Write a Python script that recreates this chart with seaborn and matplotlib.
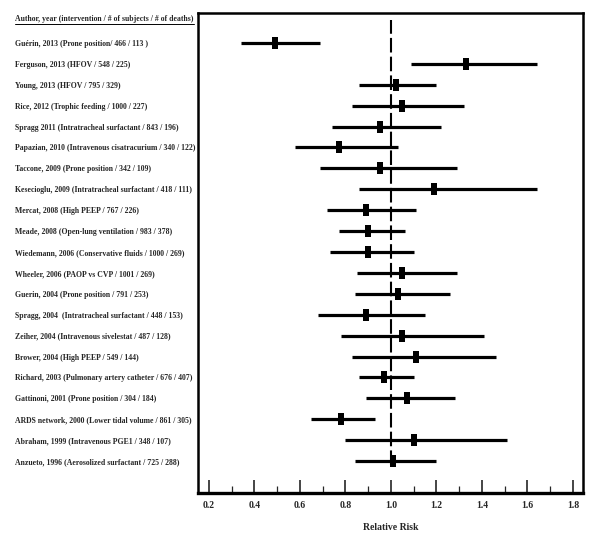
import matplotlib
matplotlib.use("Agg")
import matplotlib.pyplot as plt
import numpy as np
import pandas as pd
import seaborn as sns
from matplotlib.ticker import MultipleLocator

# study labels, top to bottom
studies = [
    "Guérin, 2013 (Prone position/ 466 / 113 )",
    "Ferguson, 2013 (HFOV / 548 / 225)",
    "Young, 2013 (HFOV / 795 / 329)",
    "Rice, 2012 (Trophic feeding / 1000 / 227)",
    "Spragg 2011 (Intratracheal surfactant / 843 / 196)",
    "Papazian, 2010 (Intravenous cisatracurium / 340 / 122)",
    "Taccone, 2009 (Prone position / 342 / 109)",
    "Kesecioglu, 2009 (Intratracheal surfactant / 418 / 111)",
    "Mercat, 2008 (High PEEP / 767 / 226)",
    "Meade, 2008 (Open-lung ventilation / 983 / 378)",
    "Wiedemann, 2006 (Conservative fluids / 1000 / 269)",
    "Wheeler, 2006 (PAOP vs CVP / 1001 / 269)",
    "Guerin, 2004 (Prone position / 791 / 253)",
    "Spragg, 2004  (Intratracheal surfactant / 448 / 153)",
    "Zeiher, 2004 (Intravenous sivelestat / 487 / 128)",
    "Brower, 2004 (High PEEP / 549 / 144)",
    "Richard, 2003 (Pulmonary artery catheter / 676 / 407)",
    "Gattinoni, 2001 (Prone position / 304 / 184)",
    "ARDS network, 2000 (Lower tidal volume / 861 / 305)",
    "Abraham, 1999 (Intravenous PGE1 / 348 / 107)",
    "Anzueto, 1996 (Aerosolized surfactant / 725 / 288)",
]
rel_risk = [0.49, 1.33, 1.02, 1.05, 0.95, 0.77, 0.95, 1.19, 0.89, 0.90, 0.90,
            1.05, 1.03, 0.89, 1.05, 1.11, 0.97, 1.07, 0.78, 1.10, 1.01]
ci_low = [0.34, 1.09, 0.86, 0.83, 0.74, 0.58, 0.69, 0.86, 0.72, 0.77, 0.73,
          0.85, 0.84, 0.68, 0.78, 0.83, 0.86, 0.89, 0.65, 0.80, 0.84]
ci_high = [0.69, 1.64, 1.20, 1.32, 1.22, 1.03, 1.29, 1.64, 1.11, 1.06, 1.10,
           1.29, 1.26, 1.15, 1.41, 1.46, 1.10, 1.28, 0.93, 1.51, 1.20]
x_ticks = [0.2, 0.4, 0.6, 0.8, 1.0, 1.2, 1.4, 1.6, 1.8]
header = "Author, year (intervention / # of subjects / # of deaths)"

sns.set_style("white")
plt.rcParams["font.family"] = ["Liberation Serif", "DejaVu Serif"]

df = pd.DataFrame({"study": studies, "rr": rel_risk, "lo": ci_low, "hi": ci_high})
df["row"] = np.arange(len(df))

fig = plt.figure(figsize=(6, 5.41), dpi=100)
ax = fig.add_axes([0.33, 0.0887, 0.6417, 0.8873])

ax.hlines(df["row"], df["lo"], df["hi"], color="black", lw=2.3, zorder=2)
rect = [(-0.5, -1), (0.5, -1), (0.5, 1), (-0.5, 1)]
sns.scatterplot(data=df, x="rr", y="row", marker=rect, s=85, color="black",
                linewidth=0, ax=ax, zorder=3, legend=False)
ax.axvline(1.0, ymin=0.058, ymax=0.985, color="black", lw=1.5, dashes=(7, 2), zorder=1)

ax.set_xlim(0.152, 1.844)
ax.set_ylim(21.53, -1.435)
ax.set_xticks(x_ticks)
ax.set_xticklabels([f"{t:.1f}" for t in x_ticks], fontsize=7, fontweight="bold")
ax.xaxis.set_minor_locator(MultipleLocator(0.1))
ax.tick_params(axis="x", which="major", direction="in", length=9.5, width=1.2,
               pad=6, bottom=True)
ax.tick_params(axis="x", which="minor", direction="in", length=5, width=0.9, bottom=True)
ax.set_xlabel("Relative Risk", fontsize=7, fontweight="bold", labelpad=9)
ax.set_ylabel("")

ax.set_yticks(df["row"])
ax.set_yticklabels(df["study"], fontsize=5.6, fontweight="bold", ha="left")
ax.tick_params(axis="y", length=0, pad=131.5)

for side in ["left", "right", "top"]:
    ax.spines[side].set_linewidth(1.8)
    ax.spines[side].set_color("black")
ax.spines["bottom"].set_linewidth(2.4)
ax.spines["bottom"].set_color("black")

head = fig.text(15 / 600, 1 - 19 / 541, header, fontsize=5.6, fontweight="bold",
                ha="left", va="center")
fig.canvas.draw()
bb = head.get_window_extent().transformed(fig.transFigure.inverted())
fig.add_artist(plt.Line2D([bb.x0, bb.x1], [bb.y0 - 0.002, bb.y0 - 0.002],
                          color="black", lw=0.7, transform=fig.transFigure))

fig.savefig("out.png", dpi=100)
